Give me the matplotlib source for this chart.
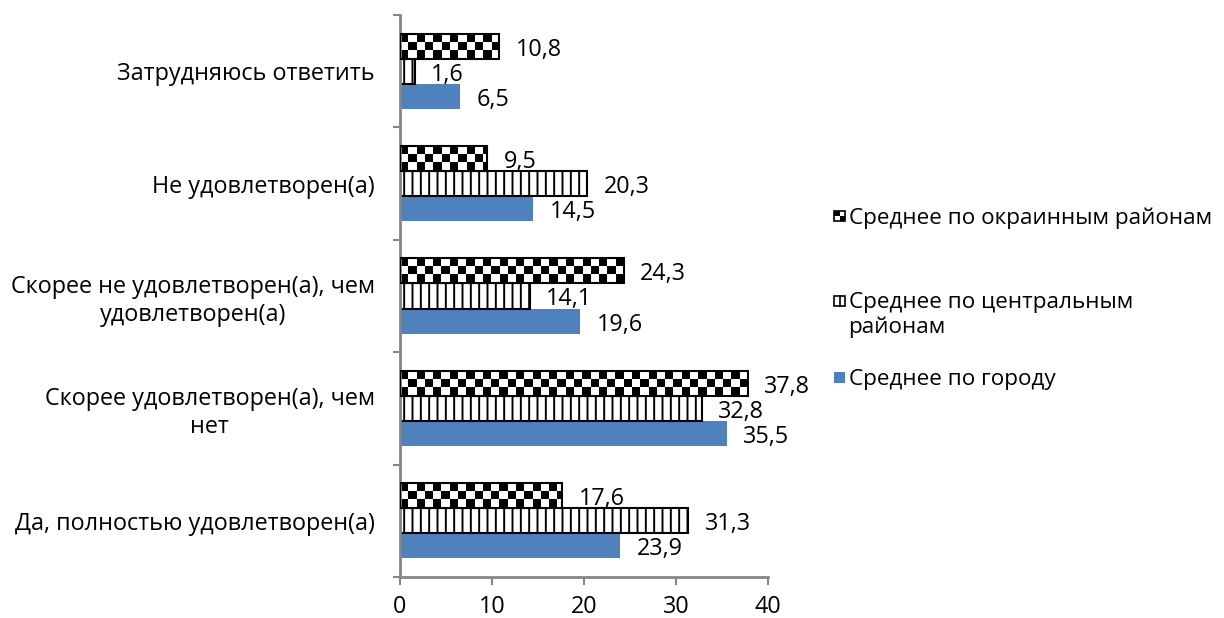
import numpy as np
import matplotlib.pyplot as plt
from matplotlib.patches import Rectangle, Patch
from matplotlib.lines import Line2D
from matplotlib.legend_handler import HandlerBase

plt.rcParams['font.family'] = ['Open Sans', 'DejaVu Sans']
plt.rcParams['hatch.linewidth'] = 1.4

# Данные (снизу вверх)
categories = ['Да, полностью удовлетворен(а)',
              'Скорее удовлетворен(а), чем\nнет',
              'Скорее не удовлетворен(а), чем\nудовлетворен(а)',
              'Не удовлетворен(а)',
              'Затрудняюсь ответить']
city = [23.9, 35.5, 19.6, 14.5, 6.5]
central = [31.3, 32.8, 14.1, 20.3, 1.6]
outer = [17.6, 37.8, 24.3, 9.5, 10.8]
series_names = ['Среднее по городу',
                'Среднее по центральным\nрайонам',
                'Среднее по окраинным районам']
x_ticks = [0, 10, 20, 30, 40]

blue = '#4F81BD'
grey = '#868686'
fs = 16.8
fs_leg = 16.2


def fmt(v):
    return ('%.1f' % v).replace('.', ',')


# Значок легенды
class SquareHandler(HandlerBase):
    def __init__(self, kind, shift=0):
        super().__init__()
        self.kind = kind
        self.shift = shift

    def create_artists(self, legend, orig_handle, xdescent, ydescent,
                       width, height, fontsize, trans):
        s = 7.5
        x0 = -xdescent + (width - s) / 2
        y0 = -ydescent + (height - s) / 2 + self.shift
        arts = []
        if self.kind == 'blue':
            arts.append(Rectangle((x0, y0), s, s, facecolor=blue, edgecolor='none', transform=trans))
        elif self.kind == 'stripe':
            arts.append(Rectangle((x0, y0), s, s, facecolor='white', edgecolor='black', lw=1.2, transform=trans))
            arts.append(Line2D([x0 + s / 2, x0 + s / 2], [y0, y0 + s], color='black', lw=1.2, transform=trans))
        else:
            arts.append(Rectangle((x0, y0), s, s, facecolor='white', edgecolor='black', lw=1.2, transform=trans))
            arts.append(Rectangle((x0, y0 + s / 2), s / 2, s / 2, facecolor='black', edgecolor='none', transform=trans))
            arts.append(Rectangle((x0 + s / 2, y0), s / 2, s / 2, facecolor='black', edgecolor='none', transform=trans))
        return arts


fig = plt.figure(figsize=(12.24, 6.18), dpi=100)
ax = fig.add_axes([400 / 1224, 1 - 577 / 618, 368 / 1224, 562 / 618])

y = np.arange(len(categories))
h = 0.223

bars_city = ax.barh(y - h, city, height=h, color=blue, zorder=2)
bars_central = ax.barh(y, central, height=h, color='white', edgecolor='black',
                       hatch='||', linewidth=1.5, zorder=2)
bars_outer = ax.barh(y + h, outer, height=h, color='white', edgecolor='none', zorder=2)

# Шахматная заливка
cell = 0.9
for b in bars_outer:
    n = int(np.ceil(b.get_width() / cell))
    grid = (np.indices((3, n)).sum(axis=0) % 2 == 0).astype(float)
    im = ax.imshow(grid, cmap='gray_r', vmin=0, vmax=1, origin='upper',
                   extent=(b.get_x(), b.get_x() + n * cell, b.get_y(), b.get_y() + b.get_height()),
                   interpolation='nearest', aspect='auto', zorder=2.5)
    im.set_clip_path(b)
ax.barh(y + h, outer, height=h, fill=False, edgecolor='black', linewidth=1.5, zorder=3)

for bars, vals in [(bars_city, city), (bars_central, central), (bars_outer, outer)]:
    texts = ax.bar_label(bars, labels=[fmt(v) for v in vals], padding=12, fontsize=fs)
    for t in texts:
        t.xyann = (t.xyann[0], -2.5)

ax.set_xlim(0, 40)
ax.set_ylim(-0.5, 4.5)
ax.set_xticks(x_ticks)
ax.set_yticks(np.arange(len(categories) + 1) - 0.5)
ax.set_yticklabels([])
ax.set_yticks(y, categories, minor=True)
for t in ax.get_yticklabels(minor=True):
    t.set_multialignment('center')
ax.tick_params(axis='y', which='minor', length=0, pad=18, labelsize=fs)
ax.tick_params(axis='y', which='major', length=5, color=grey, width=1.5)
ax.tick_params(axis='x', length=6, color=grey, width=1.5, labelsize=fs, pad=7)
for s in ['top', 'right']:
    ax.spines[s].set_visible(False)
for s in ['left', 'bottom']:
    ax.spines[s].set_color(grey)
    ax.spines[s].set_linewidth(2)

# Легенда
leg_y = [380, 315, 218]
kinds = ['blue', 'stripe', 'checker']
shifts = [0, 0.62 * fs_leg, 0]
for name, yy, k, sh in zip(series_names, leg_y, kinds, shifts):
    p = Patch()
    fig.legend(handles=[p], labels=[name], handler_map={p: SquareHandler(k, sh)},
               loc='center left', bbox_to_anchor=(834 / 1224, 1 - yy / 618),
               frameon=False, fontsize=fs_leg, handlelength=0.5, handletextpad=0.15,
               borderpad=0, borderaxespad=0)

fig.savefig('out.png', dpi=100)
